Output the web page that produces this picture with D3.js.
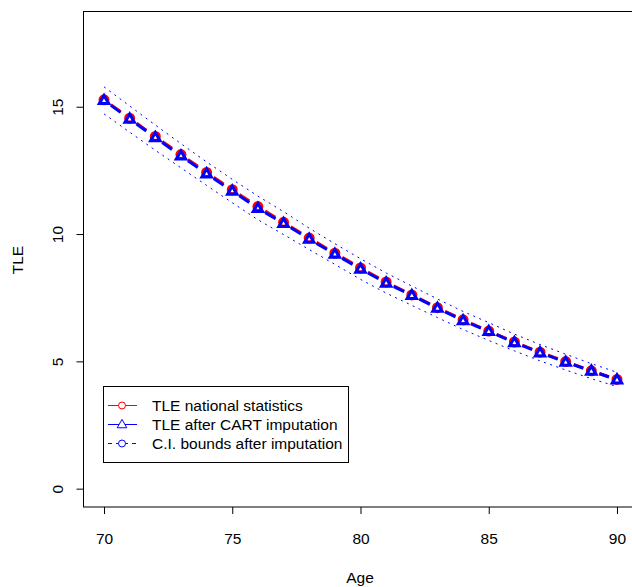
<!DOCTYPE html>
<html>
<head>
<meta charset="utf-8">
<script src="https://cdn.jsdelivr.net/npm/d3@7"></script>
<style>
  body { margin: 0; background: #fff; }
  svg { display: block; font-family: "Liberation Sans", Arial, sans-serif; }
</style>
</head>
<body>
<svg id="chart" width="632" height="587"></svg>
<script>
// ages on the x axis
const ages = [70, 71, 72, 73, 74, 75, 76, 77, 78, 79, 80, 81, 82, 83, 84, 85, 86, 87, 88, 89, 90]
// TLE from national statistics (red, circles)
const tleNational = [15.27, 14.55, 13.83, 13.12, 12.42, 11.74, 11.08, 10.46, 9.84, 9.25, 8.67, 8.12, 7.61, 7.11, 6.63, 6.19, 5.76, 5.36, 4.99, 4.63, 4.29]
// TLE after CART imputation (blue, triangles)
const tleCart = [15.25, 14.52, 13.79, 13.07, 12.37, 11.69, 11.01, 10.42, 9.80, 9.21, 8.63, 8.08, 7.59, 7.09, 6.60, 6.18, 5.74, 5.34, 4.97, 4.62, 4.28]
// confidence interval bounds after imputation
const ciUpper = [15.78, 15.03, 14.28, 13.55, 12.83, 12.15, 11.49, 10.88, 10.23, 9.62, 9.03, 8.47, 7.96, 7.45, 6.96, 6.52, 6.07, 5.66, 5.28, 4.91, 4.57]
const ciLower = [14.72, 14.00, 13.29, 12.60, 11.91, 11.23, 10.56, 9.98, 9.39, 8.81, 8.22, 7.68, 7.20, 6.72, 6.25, 5.82, 5.41, 5.02, 4.66, 4.32, 4.01]
const xTicks = [70, 75, 80, 85, 90]
const yTicks = [0, 5, 10, 15]
const legendLabels = ['TLE national statistics', 'TLE after CART imputation', 'C.I. bounds after imputation']

const svg = d3.select('#chart')
const fs = '15.5px'

// plot region like R: limits widened by 4% each side
const x = d3.scaleLinear().domain([69.2, 90.8]).range([83.5, 637.5])
const y = d3.scaleLinear().domain([-0.72, 18.72]).range([507, 12])

// axes
const xAxis = d3.axisBottom(x).tickValues(xTicks).tickSize(7).tickPadding(19)
const gx = svg.append('g').attr('transform', 'translate(0,507)').call(xAxis)
gx.select('.domain').remove()
gx.selectAll('text').style('font-size', fs).attr('fill', '#000')

const yAxis = d3.axisLeft(y).tickValues(yTicks).tickSize(7)
const gy = svg.append('g').attr('transform', 'translate(83.5,0)').call(yAxis)
gy.select('.domain').remove()
// R style: labels turned to read upwards
gy.selectAll('text')
	.style('font-size', fs)
	.attr('fill', '#000')
	.attr('transform', 'rotate(-90)')
	.attr('dy', null)
	.attr('text-anchor', 'middle')
	.attr('x', 0).attr('y', -20.5)

// box around the plot
svg.append('rect')
	.attr('x', 83.5).attr('y', 11.5)
	.attr('width', 554).attr('height', 495.5)
	.attr('fill', 'none').attr('stroke', '#000')

// axis titles
svg.append('text').attr('x', 360).attr('y', 583).attr('text-anchor', 'middle')
	.style('font-size', fs).text('Age')
svg.append('text').attr('transform', 'translate(23,260) rotate(-90)').attr('text-anchor', 'middle')
	.style('font-size', fs).text('TLE')

const pts = vals => ages.map((a, i) => [x(a), y(vals[i])])

// CI bounds, thin dotted lines
const line = d3.line()
;[ciUpper, ciLower].forEach(v => {
	svg.append('path').attr('d', line(pts(v)))
		.attr('fill', 'none').attr('stroke', '#0000ff').attr('stroke-width', 1)
		.attr('stroke-dasharray', '2,4.5')
})

// type="b": segments with a gap round each point
const gap = 8.5
const drawSegments = (vals, color) => {
	const p = pts(vals)
	const segs = d3.pairs(p).map(([a, b]) => {
		const dx = b[0] - a[0], dy = b[1] - a[1], len = Math.hypot(dx, dy)
		const ux = dx / len, uy = dy / len
		return [a[0] + ux * gap, a[1] + uy * gap, b[0] - ux * gap, b[1] - uy * gap]
	})
	svg.append('g').selectAll('line').data(segs).enter().append('line')
		.attr('x1', d => d[0]).attr('y1', d => d[1])
		.attr('x2', d => d[2]).attr('y2', d => d[3])
		.attr('stroke', color).attr('stroke-width', 3)
		.attr('stroke-dasharray', '12,12')
}

drawSegments(tleNational, '#ff0000')
svg.append('g').selectAll('circle').data(pts(tleNational)).enter().append('circle')
	.attr('cx', d => d[0]).attr('cy', d => d[1]).attr('r', 4)
	.attr('fill', 'none').attr('stroke', '#ff0000').attr('stroke-width', 3)

drawSegments(tleCart, '#0000ff')
const tri = d3.symbol().type(d3.symbolTriangle).size(38)
svg.append('g').selectAll('path').data(pts(tleCart)).enter().append('path')
	.attr('transform', d => 'translate(' + d[0] + ',' + (d[1] + 0.5) + ')')
	.attr('d', tri)
	.attr('fill', 'none').attr('stroke', '#0000ff').attr('stroke-width', 3)

// legend
const lg = svg.append('g')
lg.append('rect').attr('x', 103.5).attr('y', 386.5).attr('width', 245).attr('height', 76)
	.attr('fill', '#fff').attr('stroke', '#000')
const legendColors = ['#ff0000', '#0000ff', '#0000ff']
const legendDash = [null, null, '4,4']
const legendTri = d3.symbol().type(d3.symbolTriangle).size(40)
legendLabels.forEach((label, i) => {
	const ly = 405.5 + i * 19
	lg.append('line').attr('x1', 108).attr('x2', 137).attr('y1', ly).attr('y2', ly)
		.attr('stroke', legendColors[i]).attr('stroke-width', 1)
		.attr('stroke-dasharray', legendDash[i])
	if (i === 1) {
		lg.append('path').attr('transform', 'translate(122,' + (ly + 0.5) + ')')
			.attr('d', legendTri).attr('fill', '#fff').attr('stroke', legendColors[i])
	} else {
		lg.append('circle').attr('cx', 122).attr('cy', ly).attr('r', 3.5)
			.attr('fill', '#fff').attr('stroke', legendColors[i])
	}
	lg.append('text').attr('x', 152).attr('y', ly + 5.6).style('font-size', fs).text(label)
})
</script>
</body>
</html>
